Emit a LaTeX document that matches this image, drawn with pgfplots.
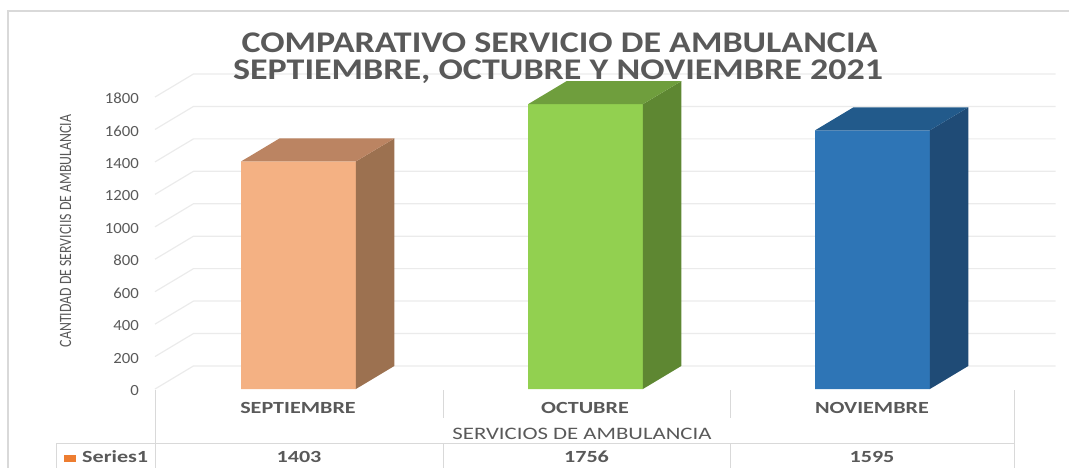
\documentclass[border=0pt]{standalone}
\usepackage{pgfplots}
\pgfplotsset{compat=1.18}
\usepackage{fontspec}
\setmainfont{Carlito}
\newfontfamily\titlef{Carlito}[FakeStretch=1.2]
\newfontfamily\widef{Carlito}[FakeStretch=1.3]
\newfontfamily\tickf{Carlito}[FakeStretch=1.08]
\definecolor{txtc}{HTML}{595959}
\definecolor{gridc}{HTML}{EBEBEB}
\definecolor{bordc}{HTML}{D9D9D9}
\definecolor{sepF}{HTML}{F4B183}
\definecolor{sepS}{HTML}{9C7150}
\definecolor{sepT}{HTML}{BB8462}
\definecolor{octF}{HTML}{92D050}
\definecolor{octS}{HTML}{5E8732}
\definecolor{octT}{HTML}{6F9E3D}
\definecolor{novF}{HTML}{2E75B6}
\definecolor{novS}{HTML}{1F4B76}
\definecolor{novT}{HTML}{225A8B}
\definecolor{keyc}{HTML}{ED7D31}
\begin{document}
\begin{tikzpicture}
\begin{axis}[
  name=ax, at={(155bp,-389bp)}, anchor=south west,
  scale only axis, width=900.6bp, height=315bp,
  xmin=-0.5, xmax=2.638, ymin=0, ymax=1942,
  clip=false,
  axis line style={draw=none},
  xtick=\empty,
  ytick={0,200,400,600,800,1000,1200,1400,1600,1800},
  tick style={draw=none},
  /pgf/number format/assume math mode=true,
  /pgf/number format/1000 sep={},
  yticklabel style={font=\tickf\fontsize{15.5bp}{16bp}\selectfont, text=txtc, inner sep=0pt, anchor=east, xshift=-16bp, yshift=-1.5bp},
]
% back-wall gridlines (front tick -> back wall)
\addplot[gridc, line width=1.2bp] coordinates {(-0.5,0) (-0.366,142) (2.638,142)};
\addplot[gridc, line width=1.2bp] coordinates {(-0.5,200) (-0.366,342) (2.638,342)};
\addplot[gridc, line width=1.2bp] coordinates {(-0.5,400) (-0.366,542) (2.638,542)};
\addplot[gridc, line width=1.2bp] coordinates {(-0.5,600) (-0.366,742) (2.638,742)};
\addplot[gridc, line width=1.2bp] coordinates {(-0.5,800) (-0.366,942) (2.638,942)};
\addplot[gridc, line width=1.2bp] coordinates {(-0.5,1000) (-0.366,1142) (2.638,1142)};
\addplot[gridc, line width=1.2bp] coordinates {(-0.5,1200) (-0.366,1342) (2.638,1342)};
\addplot[gridc, line width=1.2bp] coordinates {(-0.5,1400) (-0.366,1542) (2.638,1542)};
\addplot[gridc, line width=1.2bp] coordinates {(-0.5,1600) (-0.366,1742) (2.638,1742)};
\addplot[gridc, line width=1.2bp] coordinates {(-0.5,1800) (-0.366,1942) (2.638,1942)};
% SEPTIEMBRE 1403
\addplot[fill=sepF, draw=none] coordinates {(-0.2,0) (0.2,0) (0.2,1403) (-0.2,1403) (-0.2,0)};
\addplot[fill=sepS, draw=none] coordinates {(0.2,0) (0.334,142) (0.334,1545) (0.2,1403) (0.2,0)};
\addplot[fill=sepT, draw=none] coordinates {(-0.2,1403) (0.2,1403) (0.334,1545) (-0.066,1545) (-0.2,1403)};
% OCTUBRE 1756
\addplot[fill=octF, draw=none] coordinates {(0.8,0) (1.2,0) (1.2,1756) (0.8,1756) (0.8,0)};
\addplot[fill=octS, draw=none] coordinates {(1.2,0) (1.334,142) (1.334,1898) (1.2,1756) (1.2,0)};
\addplot[fill=octT, draw=none] coordinates {(0.8,1756) (1.2,1756) (1.334,1898) (0.934,1898) (0.8,1756)};
% NOVIEMBRE 1595
\addplot[fill=novF, draw=none] coordinates {(1.8,0) (2.2,0) (2.2,1595) (1.8,1595) (1.8,0)};
\addplot[fill=novS, draw=none] coordinates {(2.2,0) (2.334,142) (2.334,1737) (2.2,1595) (2.2,0)};
\addplot[fill=novT, draw=none] coordinates {(1.8,1595) (2.2,1595) (2.334,1737) (1.934,1737) (1.8,1595)};
\end{axis}
\begin{scope}[x=1bp, y=-1bp]
  % chart border
  \draw[bordc, line width=1.3bp] (8,468) -- (8,11) -- (1069,11);
  % data table lines
  \draw[bordc, line width=1bp] (155,390) -- (155,468);
  \draw[bordc, line width=1bp] (1014,390) -- (1014,468);
  \draw[bordc, line width=1bp] (443,390) -- (443,418);
  \draw[bordc, line width=1bp] (730,390) -- (730,418);
  \draw[bordc, line width=1bp] (443,443) -- (443,468);
  \draw[bordc, line width=1bp] (730,443) -- (730,468);
  \draw[bordc, line width=1bp] (56,443) -- (1014,443);
  \draw[bordc, line width=1bp] (56,443) -- (56,468);
  % titles
  \node[text=txtc, font=\titlef\bfseries\fontsize{30bp}{32bp}\selectfont, inner sep=0pt] at (559.5,42.5) {COMPARATIVO SERVICIO DE AMBULANCIA};
  \node[text=txtc, font=\titlef\bfseries\fontsize{30bp}{32bp}\selectfont, inner sep=0pt] at (558,72) {SEPTIEMBRE, OCTUBRE Y NOVIEMBRE 2021};
  % y axis title
  \node[text=txtc, rotate=90, inner sep=0pt, font=\fontsize{13.8bp}{14bp}\selectfont] at (65.5,231) {\scalebox{1}[1.25]{CANTIDAD DE SERVICIIS DE AMBULANCIA}};
  % category labels
  \node[text=txtc, font=\widef\bfseries\fontsize{17bp}{17bp}\selectfont, inner sep=0pt] at (298,408) {SEPTIEMBRE};
  \node[text=txtc, font=\widef\bfseries\fontsize{17bp}{17bp}\selectfont, inner sep=0pt] at (585,408) {OCTUBRE};
  \node[text=txtc, font=\widef\bfseries\fontsize{17bp}{17bp}\selectfont, inner sep=0pt] at (872,408) {NOVIEMBRE};
  \node[text=txtc, font=\widef\fontsize{17.5bp}{18bp}\selectfont, inner sep=0pt] at (582,433.5) {SERVICIOS DE AMBULANCIA};
  % series row
  \fill[keyc] (64,455) rectangle (76,462);
  \node[text=txtc, font=\widef\bfseries\fontsize{17bp}{17bp}\selectfont, inner sep=0pt, anchor=west] at (82,457) {Series1};
  \node[text=txtc, font=\widef\bfseries\fontsize{17bp}{17bp}\selectfont, inner sep=0pt] at (299,457) {1403};
  \node[text=txtc, font=\widef\bfseries\fontsize{17bp}{17bp}\selectfont, inner sep=0pt] at (586.5,457) {1756};
  \node[text=txtc, font=\widef\bfseries\fontsize{17bp}{17bp}\selectfont, inner sep=0pt] at (872,457) {1595};
\end{scope}
\pgfresetboundingbox
\path (0,0) rectangle (1069bp,-468bp);
\end{tikzpicture}
\end{document}
